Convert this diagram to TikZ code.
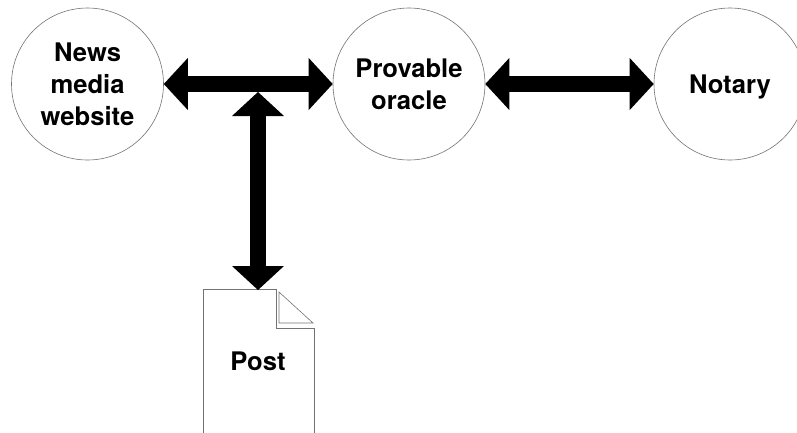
\documentclass[tikz,border=0pt]{standalone}
\usepackage{fontspec}
\setmainfont{TeX Gyre Heros}
\usetikzlibrary{arrows.meta}
\begin{document}
\begin{tikzpicture}[x=1pt,y=-1pt,
  lbl/.style={font=\fontsize{25.6}{32}\selectfont\bfseries,align=center,text depth=0pt},
  ent/.style={lbl,circle,draw=black!55,line width=0.6pt,minimum size=152pt,inner sep=0pt},
  bigtip/.tip={Triangle[width=52pt,length=24pt,line width=0pt]},
  bigarrow/.style={line width=16pt,bigtip-bigtip},
  doc/.style={draw=black!55,line width=0.6pt}]
\useasboundingbox (0,0) rectangle (797,432);
\clip (0,0) rectangle (797,432);
\node[ent] (news) at (87.5,84) {News\\media\\website};
\node[ent] (oracle) at (409,84) {Provable\\oracle};
\node[ent] (notary) at (730,84) {Notary};
\coordinate (junction) at (258,92);
\coordinate (posttop) at (258,290);
\draw[doc] (203,440) -- (203,289.5) -- (276,289.5) -- (276,328) -- (314,328) -- (314,440);
\draw[doc] (279,292) -- (279,323) -- (313,323) -- cycle;
\node[lbl] (post) at (258,361) {Post};
\draw[bigarrow] (news) -- (oracle);
\draw[bigarrow] (oracle) -- (notary);
\draw[bigarrow] (junction) -- (posttop);
\end{tikzpicture}
\end{document}
